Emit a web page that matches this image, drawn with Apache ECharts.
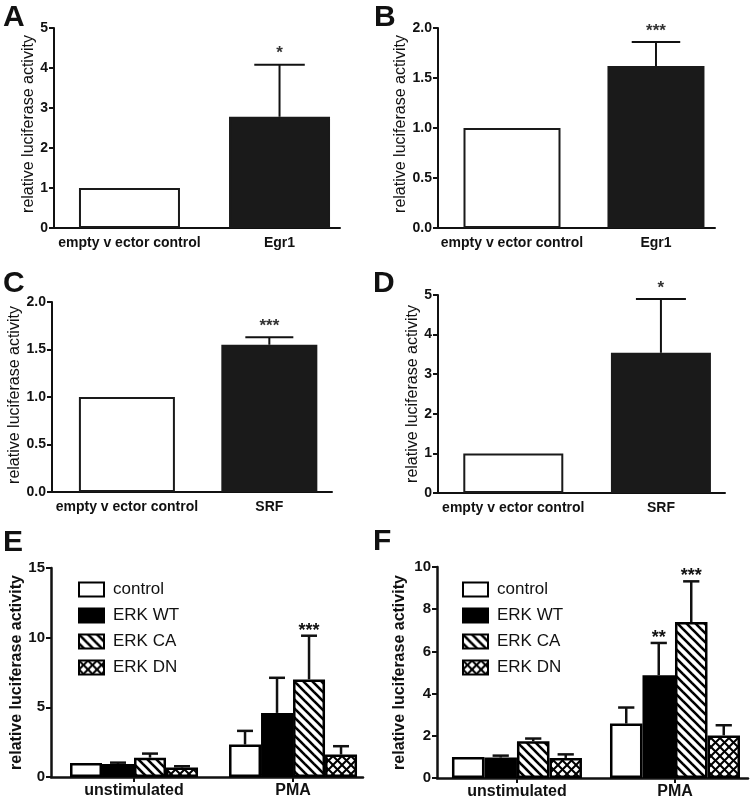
<!DOCTYPE html>
<html><head><meta charset="utf-8">
<script src="https://cdn.jsdelivr.net/npm/echarts@6/dist/echarts.min.js"></script>
<style>html,body{margin:0;padding:0;background:#fff}#c{width:751px;height:804px}</style>
</head><body><div id="c"></div>
<script>
// ---------- data ----------
const catsEgr = ['empty v ector control', 'Egr1'];
const catsSrf = ['empty v ector control', 'SRF'];
const aMean = [1.0, 2.78]; const aErr = [1.0, 4.08]; const aStars = ['', '*'];
const bMean = [1.0, 1.62]; const bErr = [1.0, 1.86]; const bStars = ['', '***'];
const cMean = [1.0, 1.55]; const cErr = [1.0, 1.63]; const cStars = ['', '***'];
const dMean = [1.0, 3.54]; const dErr = [1.0, 4.9];  const dStars = ['', '*'];

const groups = ['unstimulated', 'PMA'];
const seriesNames = ['control', 'ERK WT', 'ERK CA', 'ERK DN'];
// panel E
const eControl = [1.0, 2.33];  const eControlErr = [1.0, 3.31];  const eControlStars = ['', ''];
const eWT      = [0.93, 4.6];  const eWTErr      = [1.03, 7.12]; const eWTStars      = ['', ''];
const eCA      = [1.39, 7.0];  const eCAErr      = [1.68, 10.14];const eCAStars      = ['', '***'];
const eDN      = [0.68, 1.61]; const eDNErr      = [0.77, 2.21]; const eDNStars      = ['', ''];
// panel F
const fControl = [1.0, 2.58];  const fControlErr = [1.0, 3.34];  const fControlStars = ['', ''];
const fWT      = [0.97, 4.87]; const fWTErr      = [1.06, 6.4];  const fWTStars      = ['', '**'];
const fCA      = [1.74, 7.39]; const fCAErr      = [1.87, 9.32]; const fCAStars      = ['', '***'];
const fDN      = [0.95, 2.02]; const fDNErr      = [1.12, 2.5];  const fDNStars      = ['', ''];

const yTicksA = {min: 0, max: 5, interval: 1};
const yTicksB = {min: 0, max: 2, interval: 0.5};
const yTicksC = {min: 0, max: 2, interval: 0.5};
const yTicksD = {min: 0, max: 5, interval: 1};
const yTicksE = {min: 0, max: 15, interval: 5};
const yTicksF = {min: 0, max: 10, interval: 2};

// ---------- styles ----------
const FONT = '"Liberation Sans", Arial, sans-serif';
const INK = '#111';
function hatch(kind) {
  const s = kind === 'diag' ? 9 : 9;
  const c = document.createElement('canvas'); c.width = s; c.height = s;
  const g = c.getContext('2d');
  g.fillStyle = '#fff'; g.fillRect(0, 0, s, s);
  g.strokeStyle = '#000'; g.lineWidth = kind === 'diag' ? 2.6 : 2;
  for (const k of [-s, 0, s]) {
    g.beginPath(); g.moveTo(-1, -1 + k); g.lineTo(s + 1, s + 1 + k); g.stroke();
    if (kind === 'cross') { g.beginPath(); g.moveTo(-1, s + 1 + k); g.lineTo(s + 1, -1 + k); g.stroke(); }
  }
  return {image: c, repeat: 'repeat'};
}
const fills = ['#ffffff', '#000000', hatch('diag'), hatch('cross')];

const panels = [
  {grid: {left: 54, top: 28, width: 286, height: 200}, xr: [-0.503, 1.403], y: yTicksA, dec: 0, cats: catsEgr, nameGap: 17, namePad: 8, bw: 101},
  {grid: {left: 438, top: 28, width: 277, height: 200}, xr: [-0.514, 1.41], y: yTicksB, dec: 1, cats: catsEgr, nameGap: 28, namePad: 8, bw: 97},
  {grid: {left: 52, top: 302, width: 280, height: 190}, xr: [-0.526, 1.44], y: yTicksC, dec: 1, cats: catsSrf, nameGap: 28, namePad: 4, bw: 96},
  {grid: {left: 438, top: 295, width: 287, height: 198}, xr: [-0.51, 1.434], y: yTicksD, dec: 0, cats: catsSrf, nameGap: 15, namePad: 0, bw: 100},
  {grid: {left: 51, top: 568, width: 312, height: 209}, xr: [-0.522, 1.44], y: yTicksE, dec: 0, cats: groups, nameGap: 24, namePad: 0, bw: 32},
  {grid: {left: 437, top: 567, width: 311, height: 211}, xr: [-0.506, 1.462], y: yTicksF, dec: 0, cats: groups, nameGap: 29, namePad: 0, bw: 32.5}
];

const grids = [], xAxes = [], yAxes = [], series = [];
panels.forEach((p, i) => {
  const big = i >= 4;
  grids.push(p.grid);
  xAxes.push({
    gridIndex: i, type: 'value', min: p.xr[0], max: p.xr[1],
    axisLine: {onZero: false, lineStyle: {color: INK, width: big ? 2.5 : 2}},
    axisTick: big ? {show: true, customValues: [0, 1], length: 5, lineStyle: {color: INK, width: 2}} : {show: false},
    splitLine: {show: false},
    axisLabel: {customValues: [0, 1], formatter: (v) => p.cats[Math.round(v)] || '',
      fontFamily: FONT, fontWeight: 'bold', fontSize: big ? 16 : 14, color: INK, margin: big ? 6 : 8}
  });
  yAxes.push({
    gridIndex: i, type: 'value', min: p.y.min, max: p.y.max, interval: p.y.interval,
    axisLine: {show: true, onZero: false, lineStyle: {color: INK, width: big ? 2.5 : 2}},
    axisTick: {show: true, length: 5, lineStyle: {color: INK, width: 2}},
    splitLine: {show: false},
    axisLabel: {fontFamily: FONT, fontWeight: 'bold', fontSize: big ? 15 : 14, color: INK, margin: 6,
      formatter: (v) => v.toFixed(p.dec)},
    name: 'relative luciferase activity', nameLocation: 'middle', nameGap: p.nameGap,
    nameTextStyle: {fontFamily: FONT, fontSize: 16, fontWeight: big ? 'bold' : 'normal', color: INK,
      padding: [0, 0, 0, p.namePad]}
  });
});

function errSeries(gi, means, errs, stars, offset, bw, big, name) {
  return {
    type: 'custom', name: name, xAxisIndex: gi, yAxisIndex: gi, z: 5, silent: true,
    data: means.map((m, k) => [k, m, errs[k]]),
    encode: {x: 0, y: [1, 2]},
    renderItem: (params, api) => {
      const x = api.value(0), m = api.value(1), e = api.value(2);
      const p0 = api.coord([x, m]), p1 = api.coord([x, e]);
      const cx = p0[0] + offset;
      const children = [];
      const lw = big ? 2.5 : 2;
      if (e > m + 1e-9) {
        children.push({type: 'line', shape: {x1: cx, y1: p0[1], x2: cx, y2: p1[1]}, style: {stroke: '#111', lineWidth: lw}});
        children.push({type: 'line', shape: {x1: cx - bw / 4, y1: p1[1], x2: cx + bw / 4, y2: p1[1]}, style: {stroke: '#111', lineWidth: lw}});
      }
      const s = stars[params.dataIndex];
      if (s) {
        children.push({type: 'text', style: {text: s, x: cx, y: p1[1] - (big ? 5 : 11), align: 'center', verticalAlign: 'middle',
          fontFamily: FONT, fontSize: big ? 18 : 17, fontWeight: 'bold', fill: big ? '#111' : '#333'}});
      }
      return {type: 'group', children: children};
    }
  };
}

// panels A-D
[[aMean, aErr, aStars], [bMean, bErr, bStars], [cMean, cErr, cStars], [dMean, dErr, dStars]].forEach((d, i) => {
  const p = panels[i];
  series.push({
    type: 'bar', xAxisIndex: i, yAxisIndex: i, barWidth: p.bw,
    data: d[0].map((v, k) => ({value: [k, v], itemStyle: {color: k === 0 ? '#ffffff' : '#1a1a1a'}})),
    itemStyle: {borderColor: '#1a1a1a', borderWidth: 2}
  });
  series.push(errSeries(i, d[0], d[1], d[2], 0, p.bw, false));
});

// panels E-F
const eSets = [[eControl, eControlErr, eControlStars], [eWT, eWTErr, eWTStars], [eCA, eCAErr, eCAStars], [eDN, eDNErr, eDNStars]];
const fSets = [[fControl, fControlErr, fControlStars], [fWT, fWTErr, fWTStars], [fCA, fCAErr, fCAStars], [fDN, fDNErr, fDNStars]];
[[4, eSets], [5, fSets]].forEach(([gi, sets]) => {
  const bw = panels[gi].bw;
  sets.forEach((d, j) => {
    series.push({
      type: 'bar', name: seriesNames[j], xAxisIndex: gi, yAxisIndex: gi, barWidth: bw, barGap: '0%',
      data: d[0].map((v, k) => [k, v]),
      itemStyle: {color: fills[j], borderColor: '#000', borderWidth: 2.5}
    });
  });
  sets.forEach((d, j) => {
    series.push(errSeries(gi, d[0], d[1], d[2], (j - 1.5) * bw, bw, true));
  });
});

const legendCommon = {
  data: seriesNames, orient: 'vertical', itemWidth: 25, itemHeight: 14, itemGap: 9, icon: 'rect',
  selectedMode: false, padding: 0,
  textStyle: {fontFamily: FONT, fontSize: 17, color: INK, padding: [0, 0, 0, 4]}
};
const letters = [['A', 3, 3], ['B', 374, 3], ['C', 3, 269], ['D', 373, 269], ['E', 3, 528], ['F', 373, 527]];

const chart = echarts.init(document.getElementById('c'), null, {renderer: 'canvas'});
chart.setOption({
  animation: false,
  backgroundColor: '#fff',
  textStyle: {fontFamily: FONT},
  title: letters.map(([t, l, tp]) => ({text: t, left: l, top: tp, padding: 0,
    textStyle: {fontFamily: FONT, fontSize: 30, fontWeight: 'bold', color: INK}})),
  legend: [Object.assign({left: 78, top: 581}, legendCommon), Object.assign({left: 462, top: 581}, legendCommon)],
  grid: grids, xAxis: xAxes, yAxis: yAxes, series: series
});
</script></body></html>
